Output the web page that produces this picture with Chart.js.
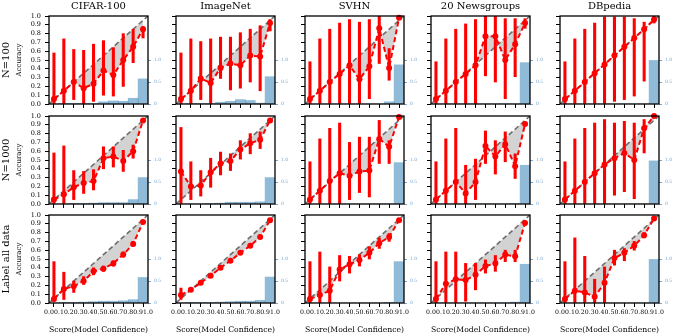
<!DOCTYPE html>
<html>
<head>
<meta charset="utf-8">
<script src="https://cdn.jsdelivr.net/npm/chart.js@4.4.1/dist/chart.umd.min.js"></script>
<style>
  body { margin: 0; background: #fff; }
  #wrap { position: relative; width: 677px; height: 334px; overflow: hidden; font-family: 'DejaVu Serif', serif; }
  canvas { position: absolute; }
  .lbl { position: absolute; white-space: nowrap; color: #000; line-height: 1; }
</style>
</head>
<body>
<div id="wrap"></div>
<script>
// bins and labels
const binCenters = [0.05, 0.15, 0.25, 0.35, 0.45, 0.55, 0.65, 0.75, 0.85, 0.95];
const columnNames = ['CIFAR-100', 'ImageNet', 'SVHN', '20 Newsgroups', 'DBpedia'];
const rowNames = ['N=100', 'N=1000', 'Label all data'];
const xTickValues = [0, 0.1, 0.2, 0.3, 0.4, 0.5, 0.6, 0.7, 0.8, 0.9, 1.0];
const countTickValues = [0, 0.5, 1.0];

// N=100
const cifarN100Acc  = [0.056, 0.15, 0.25, 0.18, 0.23, 0.38, 0.33, 0.50, 0.65, 0.85];
const cifarN100Lo   = [0.00, 0.00, 0.05, 0.00, 0.03, 0.10, 0.09, 0.20, 0.47, 0.75];
const cifarN100Hi   = [0.58, 0.74, 0.62, 0.61, 0.68, 0.72, 0.64, 0.80, 0.85, 0.88];
const cifarN100Hist = [0.00, 0.005, 0.015, 0.005, 0.005, 0.05, 0.07, 0.06, 0.13, 0.57];

const imagenetN100Acc  = [0.056, 0.15, 0.29, 0.24, 0.41, 0.46, 0.44, 0.55, 0.54, 0.92];
const imagenetN100Lo   = [0.00, 0.00, 0.05, 0.00, 0.29, 0.16, 0.18, 0.25, 0.15, 0.83];
const imagenetN100Hi   = [0.58, 0.74, 0.71, 0.74, 0.76, 0.76, 0.81, 0.85, 0.89, 0.96];
const imagenetN100Hist = [0.00, 0.005, 0.01, 0.01, 0.04, 0.06, 0.10, 0.08, 0.02, 0.62];

const svhnN100Acc  = [0.056, 0.15, 0.25, 0.34, 0.44, 0.28, 0.43, 0.86, 0.41, 0.98];
const svhnN100Lo   = [0.00, 0.00, 0.00, 0.00, 0.00, 0.00, 0.06, 0.46, 0.27, 0.97];
const svhnN100Hi   = [0.48, 0.74, 0.85, 0.92, 0.96, 0.93, 0.96, 1.00, 0.63, 0.99];
const svhnN100Hist = [0, 0, 0, 0, 0, 0, 0, 0, 0.05, 0.89];

const newsN100Acc  = [0.056, 0.15, 0.25, 0.34, 0.44, 0.77, 0.77, 0.50, 0.68, 0.92];
const newsN100Lo   = [0.00, 0.00, 0.00, 0.00, 0.00, 0.32, 0.25, 0.06, 0.31, 0.86];
const newsN100Hi   = [0.48, 0.74, 0.85, 0.91, 0.96, 1.00, 1.00, 0.97, 0.97, 0.97];
const newsN100Hist = [0, 0, 0, 0, 0, 0, 0, 0, 0, 0.94];

const dbpediaN100Acc  = [0.056, 0.15, 0.25, 0.35, 0.45, 0.55, 0.65, 0.75, 0.85, 0.96];
const dbpediaN100Lo   = [0.00, 0.00, 0.00, 0.00, 0.00, 0.03, 0.05, 0.09, 0.26, 0.92];
const dbpediaN100Hi   = [0.48, 0.74, 0.85, 0.92, 0.99, 0.99, 0.99, 0.97, 0.93, 1.00];
const dbpediaN100Hist = [0, 0, 0, 0, 0, 0, 0, 0, 0, 0.99];

// N=1000
const cifarN1000Acc  = [0.05, 0.11, 0.19, 0.24, 0.26, 0.52, 0.54, 0.49, 0.60, 0.95];
const cifarN1000Lo   = [0.00, 0.00, 0.05, 0.12, 0.16, 0.40, 0.42, 0.37, 0.52, 0.94];
const cifarN1000Hi   = [0.58, 0.66, 0.38, 0.37, 0.39, 0.65, 0.65, 0.61, 0.67, 0.96];
const cifarN1000Hist = [0.00, 0.00, 0.005, 0.01, 0.02, 0.03, 0.03, 0.03, 0.10, 0.60];

const imagenetN1000Acc  = [0.37, 0.20, 0.21, 0.36, 0.46, 0.49, 0.62, 0.69, 0.73, 0.95];
const imagenetN1000Lo   = [0.00, 0.05, 0.09, 0.19, 0.33, 0.38, 0.51, 0.57, 0.63, 0.94];
const imagenetN1000Hi   = [0.87, 0.48, 0.38, 0.52, 0.59, 0.57, 0.72, 0.80, 0.82, 0.96];
const imagenetN1000Hist = [0.00, 0.00, 0.00, 0.005, 0.02, 0.04, 0.04, 0.04, 0.05, 0.60];

const svhnN1000Acc  = [0.05, 0.15, 0.26, 0.35, 0.32, 0.37, 0.38, 0.74, 0.65, 0.99];
const svhnN1000Lo   = [0.00, 0.00, 0.00, 0.00, 0.05, 0.13, 0.08, 0.46, 0.46, 0.98];
const svhnN1000Hi   = [0.48, 0.74, 0.86, 0.92, 0.70, 0.76, 0.76, 0.95, 0.72, 1.00];
const svhnN1000Hist = [0, 0, 0, 0, 0, 0, 0, 0, 0, 0.94];

const newsN1000Acc  = [0.05, 0.15, 0.25, 0.12, 0.25, 0.66, 0.54, 0.68, 0.43, 0.91];
const newsN1000Lo   = [0.00, 0.00, 0.00, 0.00, 0.05, 0.46, 0.34, 0.48, 0.29, 0.89];
const newsN1000Hi   = [0.48, 0.74, 0.86, 0.44, 0.51, 0.83, 0.72, 0.82, 0.57, 0.93];
const newsN1000Hist = [0, 0, 0, 0, 0, 0, 0, 0, 0.01, 0.88];

const dbpediaN1000Acc  = [0.05, 0.15, 0.25, 0.35, 0.45, 0.52, 0.58, 0.50, 0.86, 1.00];
const dbpediaN1000Lo   = [0.00, 0.00, 0.00, 0.00, 0.00, 0.10, 0.14, 0.06, 0.58, 0.99];
const dbpediaN1000Hi   = [0.48, 0.74, 0.86, 0.92, 0.96, 0.92, 0.94, 0.92, 0.96, 1.00];
const dbpediaN1000Hist = [0, 0, 0, 0, 0, 0, 0, 0, 0, 0.98];

// Label all data
const cifarAllAcc  = [0.045, 0.16, 0.19, 0.25, 0.36, 0.39, 0.45, 0.55, 0.67, 0.92];
const cifarAllLo   = [0.02, 0.04, 0.12, 0.21, 0.32, 0.36, 0.42, 0.52, 0.65, 0.91];
const cifarAllHi   = [0.47, 0.35, 0.25, 0.30, 0.40, 0.42, 0.48, 0.58, 0.70, 0.93];
const cifarAllHist = [0.00, 0.005, 0.005, 0.02, 0.03, 0.04, 0.04, 0.05, 0.075, 0.58];

const imagenetAllAcc  = [0.09, 0.15, 0.23, 0.31, 0.40, 0.48, 0.57, 0.65, 0.75, 0.94];
const imagenetAllLo   = [0.04, 0.13, 0.21, 0.29, 0.38, 0.46, 0.55, 0.63, 0.73, 0.93];
const imagenetAllHi   = [0.17, 0.17, 0.25, 0.33, 0.42, 0.50, 0.59, 0.67, 0.77, 0.95];
const imagenetAllHist = [0.00, 0.005, 0.01, 0.01, 0.02, 0.03, 0.04, 0.04, 0.06, 0.59];

const svhnAllAcc  = [0.045, 0.09, 0.14, 0.38, 0.44, 0.49, 0.57, 0.68, 0.75, 0.94];
const svhnAllLo   = [0.00, 0.00, 0.00, 0.25, 0.34, 0.42, 0.50, 0.62, 0.70, 0.93];
const svhnAllHi   = [0.47, 0.58, 0.41, 0.54, 0.53, 0.55, 0.64, 0.74, 0.79, 0.95];
const svhnAllHist = [0, 0, 0, 0, 0, 0, 0, 0, 0.005, 0.94];

const newsAllAcc  = [0.045, 0.22, 0.27, 0.26, 0.32, 0.42, 0.45, 0.55, 0.53, 0.91];
const newsAllLo   = [0.00, 0.00, 0.00, 0.02, 0.15, 0.34, 0.36, 0.47, 0.47, 0.90];
const newsAllHi   = [0.47, 0.58, 0.58, 0.45, 0.45, 0.49, 0.54, 0.60, 0.60, 0.92];
const newsAllHist = [0, 0, 0, 0, 0, 0, 0, 0, 0.02, 0.88];

const dbpediaAllAcc  = [0.045, 0.14, 0.12, 0.07, 0.23, 0.51, 0.57, 0.65, 0.77, 0.96];
const dbpediaAllLo   = [0.00, 0.00, 0.00, 0.00, 0.00, 0.43, 0.48, 0.60, 0.74, 0.95];
const dbpediaAllHi   = [0.47, 0.74, 0.53, 0.27, 0.41, 0.60, 0.62, 0.70, 0.80, 0.97];
const dbpediaAllHist = [0, 0, 0, 0, 0, 0, 0, 0, 0, 0.99];

const panels = [
  [
    [cifarN100Acc, cifarN100Lo, cifarN100Hi, cifarN100Hist],
    [imagenetN100Acc, imagenetN100Lo, imagenetN100Hi, imagenetN100Hist],
    [svhnN100Acc, svhnN100Lo, svhnN100Hi, svhnN100Hist],
    [newsN100Acc, newsN100Lo, newsN100Hi, newsN100Hist],
    [dbpediaN100Acc, dbpediaN100Lo, dbpediaN100Hi, dbpediaN100Hist]
  ],
  [
    [cifarN1000Acc, cifarN1000Lo, cifarN1000Hi, cifarN1000Hist],
    [imagenetN1000Acc, imagenetN1000Lo, imagenetN1000Hi, imagenetN1000Hist],
    [svhnN1000Acc, svhnN1000Lo, svhnN1000Hi, svhnN1000Hist],
    [newsN1000Acc, newsN1000Lo, newsN1000Hi, newsN1000Hist],
    [dbpediaN1000Acc, dbpediaN1000Lo, dbpediaN1000Hi, dbpediaN1000Hist]
  ],
  [
    [cifarAllAcc, cifarAllLo, cifarAllHi, cifarAllHist],
    [imagenetAllAcc, imagenetAllLo, imagenetAllHi, imagenetAllHist],
    [svhnAllAcc, svhnAllLo, svhnAllHi, svhnAllHist],
    [newsAllAcc, newsAllLo, newsAllHi, newsAllHist],
    [dbpediaAllAcc, dbpediaAllLo, dbpediaAllHi, dbpediaAllHist]
  ]
];

// layout of the grid (plot area corners)
const panelLeft = [49, 176, 305, 431, 560];
const panelTop = [16, 116, 215];
const panelW = 99, panelH = 88;
const padL = 40, padR = 22, padT = 8;

Chart.defaults.font.family = "'DejaVu Serif', serif";
Chart.defaults.color = '#000';

const wrap = document.getElementById('wrap');

function addLabel(text, cx, cy, size, rotate) {
  const d = document.createElement('div');
  d.className = 'lbl';
  d.textContent = text;
  d.style.fontSize = size + 'px';
  d.style.left = cx + 'px';
  d.style.top = cy + 'px';
  d.style.transform = 'translate(-50%, -50%)' + (rotate ? ' rotate(-90deg)' : '');
  wrap.appendChild(d);
}

// box around each plot area
const frame = {
  id: 'frame',
  afterDatasetsDraw(chart) {
    const a = chart.chartArea, ctx = chart.ctx;
    ctx.save();
    ctx.strokeStyle = '#000';
    ctx.lineWidth = 1.3;
    ctx.strokeRect(a.left, a.top, a.right - a.left, a.bottom - a.top);
    ctx.restore();
  }
};

for (let r = 0; r < 3; r++) {
  for (let c = 0; c < 5; c++) {
    const [acc, lo, hi, hist] = panels[r][c];
    const bottomRow = r === 2;
    const padB = bottomRow ? 22 : 8;
    const cv = document.createElement('canvas');
    const cw = padL + panelW + padR, ch = padT + panelH + padB;
    cv.width = cw; cv.height = ch;
    cv.style.left = (panelLeft[c] - padL) + 'px';
    cv.style.top = (panelTop[r] - padT) + 'px';
    wrap.appendChild(cv);

    new Chart(cv, {
      type: 'line',
      data: {
        datasets: [
          {
            type: 'bar', yAxisID: 'y2', order: 7, grouped: false,
            data: binCenters.map((x, i) => ({ x: x, y: hist[i] })),
            backgroundColor: 'rgba(31,119,180,0.5)', borderWidth: 0,
            barPercentage: 1, categoryPercentage: 1
          },
          {
            type: 'line', order: 6,
            data: binCenters.map(x => ({ x: x, y: x })),
            borderWidth: 0, pointRadius: 0,
            fill: { target: 4 }, backgroundColor: '#d3d3d3'
          },
          {
            type: 'line', order: 5,
            data: [{ x: 0, y: 0 }, { x: 1, y: 1 }],
            borderColor: '#6e6e6e', borderWidth: 1.6, borderDash: [5, 3],
            pointRadius: 0, fill: false
          },
          {
            type: 'bar', order: 3, grouped: false,
            data: binCenters.map((x, i) => ({ x: x, y: [lo[i], hi[i]] })),
            backgroundColor: '#ff0000', borderWidth: 0, barThickness: 2.4
          },
          {
            type: 'line', order: 1, clip: false,
            data: binCenters.map((x, i) => ({ x: x, y: acc[i] })),
            borderColor: '#ff0000', borderWidth: 2, borderDash: [5, 3],
            pointRadius: 3, pointBackgroundColor: '#ff0000', pointBorderWidth: 0,
            fill: false
          }
        ]
      },
      options: {
        responsive: false,
        animation: false,
        events: [],
        devicePixelRatio: 1,
        layout: { padding: { top: padT, left: 0, right: 0, bottom: 0 } },
        plugins: { legend: { display: false }, tooltip: { enabled: false } },
        scales: {
          x: {
            type: 'linear', min: 0, max: 1, offset: false,
            afterBuildTicks: s => { s.ticks = xTickValues.map(v => ({ value: v })); },
            afterFit: s => { s.height = padB; },
            ticks: {
              display: bottomRow, autoSkip: false, maxRotation: 0, padding: 2,
              font: { size: 6.2 }, callback: v => v.toFixed(1)
            },
            grid: { drawOnChartArea: false, drawTicks: true, tickLength: 4, color: '#000', lineWidth: 1 },
            border: { display: false }
          },
          y: {
            type: 'linear', min: 0, max: 1, position: 'left',
            afterBuildTicks: s => { s.ticks = xTickValues.map(v => ({ value: v })); },
            afterFit: s => { s.width = padL; },
            ticks: {
              display: c === 0, autoSkip: false, padding: 4,
              font: { size: 6.5 }, callback: v => v.toFixed(1)
            },
            grid: { drawOnChartArea: false, drawTicks: true, tickLength: 4, color: '#000', lineWidth: 1 },
            border: { display: false }
          },
          y2: {
            type: 'linear', min: 0, max: 2, position: 'right',
            afterBuildTicks: s => { s.ticks = countTickValues.map(v => ({ value: v })); },
            afterFit: s => { s.width = padR; },
            ticks: {
              autoSkip: false, padding: 3, color: '#7aa6cf',
              font: { size: 4.5 }, callback: v => (v === 0 ? '0' : v.toFixed(1))
            },
            grid: { drawOnChartArea: false, drawTicks: true, tickLength: 3, color: '#7aa6cf', lineWidth: 1 },
            border: { display: false }
          }
        }
      },
      plugins: [frame]
    });
  }
}

// titles and axis labels
columnNames.forEach((name, c) => addLabel(name, panelLeft[c] + panelW / 2, 6, 10, false));
rowNames.forEach((name, r) => {
  addLabel(name, 6, panelTop[r] + panelH / 2, 10, true);
  addLabel('Accuracy', 19, panelTop[r] + panelH / 2, 7, true);
});
panelLeft.forEach(L => addLabel('Score(Model Confidence)', L + panelW / 2, 330, 7.7, false));
</script>
</body>
</html>
